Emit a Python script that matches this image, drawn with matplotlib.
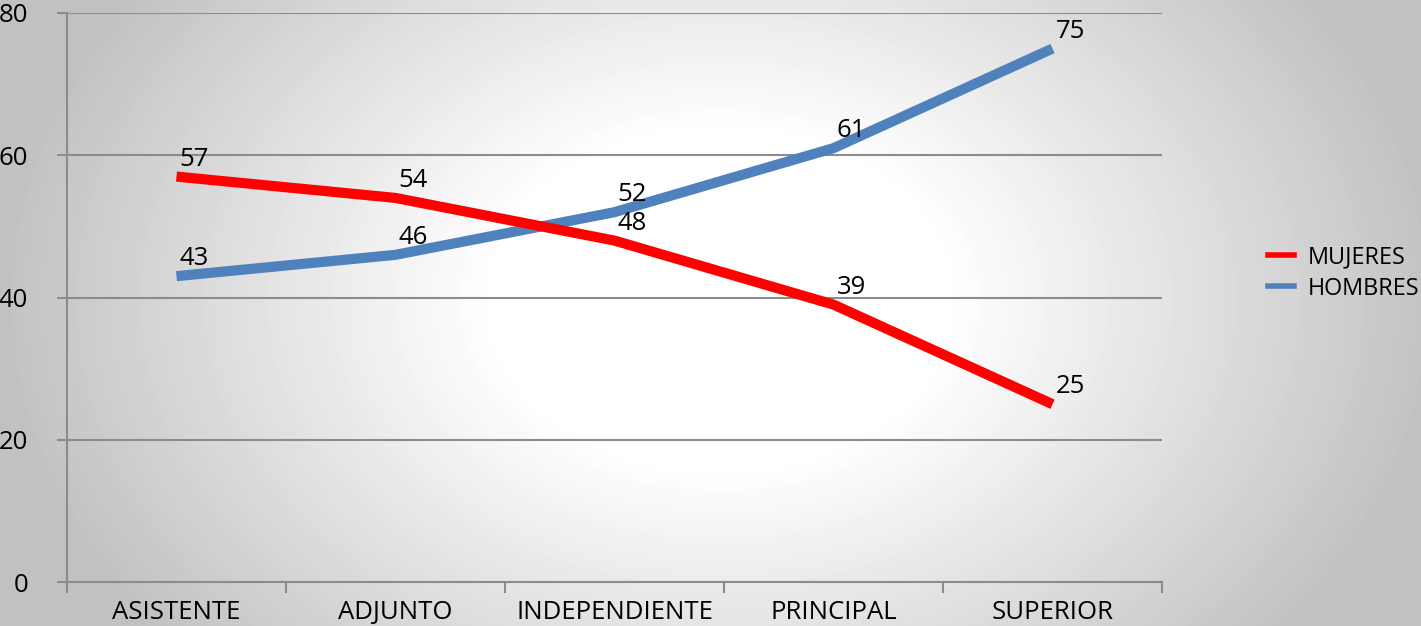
import numpy as np
import matplotlib
matplotlib.use("Agg")
import matplotlib.pyplot as plt
from matplotlib.lines import Line2D

categories = ["ASISTENTE", "ADJUNTO", "INDEPENDIENTE", "PRINCIPAL", "SUPERIOR"]
mujeres = [57, 54, 48, 39, 25]
hombres = [43, 46, 52, 61, 75]
series_names = ["MUJERES", "HOMBRES"]
yticks = [0, 20, 40, 60, 80]

plt.rcParams['font.family'] = ['Open Sans', 'DejaVu Sans']

W, H = 1421, 626
fig = plt.figure(figsize=(W / 100, H / 100), dpi=100)

# radial gradient background
bg = fig.add_axes([0, 0, 1, 1], zorder=-10)
yy, xx = np.mgrid[0:H, 0:W]
cx, cy = 720, 300
r = np.sqrt(((xx - cx) / 760.0) ** 2 + ((yy - cy) / 560.0) ** 2)
v = np.clip(1.0 - 0.26 * np.clip(r - 0.3, 0, None) / 0.7, 0.76, 1.0)
bg.imshow(v, cmap='gray', vmin=0, vmax=1, aspect='auto', interpolation='bilinear')
bg.axis('off')

ax = fig.add_axes([67 / W, 1 - 582 / H, (1162 - 67) / W, (582 - 13) / H])
ax.patch.set_visible(False)

x = np.arange(len(categories))
red = '#FF0000'
blue = '#4F81BD'
gray = '#8C8C8C'

ax.plot(x, hombres, color=blue, lw=7.3, solid_capstyle='butt', zorder=3)
ax.plot(x, mujeres, color=red, lw=7.3, solid_capstyle='butt', zorder=4)

fs = 18.5
for xi, m, h in zip(x, mujeres, hombres):
    ax.annotate(str(m), (xi, m), xytext=(3, 11), textcoords='offset pixels',
                ha='left', va='baseline', fontsize=fs, color='black', zorder=5)
    ax.annotate(str(h), (xi, h), xytext=(3, 11), textcoords='offset pixels',
                ha='left', va='baseline', fontsize=fs, color='black', zorder=5)

ax.set_xlim(-0.5, len(categories) - 0.5)
ax.set_ylim(0, 80)
ax.set_yticks(yticks)
ax.set_yticklabels([str(t) for t in yticks])
ax.yaxis.grid(True, color=gray, lw=1.5)
ax.set_axisbelow(True)

ax.set_xticks(np.arange(-0.5, len(categories), 1.0))
ax.set_xticklabels([])
ax.set_xticks(x, minor=True)
ax.set_xticklabels(categories, minor=True)
ax.tick_params(axis='x', which='major', length=8, width=1.5, color=gray, direction='out')
ax.tick_params(axis='x', which='minor', length=0, pad=13, labelsize=fs)
ax.tick_params(axis='y', length=7, width=1.5, color=gray, pad=21, labelsize=fs)

for s in ['top', 'right']:
    ax.spines[s].set_visible(False)
for s in ['left', 'bottom']:
    ax.spines[s].set_color(gray)
    ax.spines[s].set_linewidth(1.5)

handles = [Line2D([], [], color=red, lw=4), Line2D([], [], color=blue, lw=4)]
fig.legend(handles, series_names, loc='center left', bbox_to_anchor=(1268 / W, 1 - 273 / H),
           frameon=False, fontsize=16.8, handlelength=1.1, handletextpad=0.6,
           labelspacing=0.3, borderpad=0, borderaxespad=0)

fig.savefig('out.png', dpi=100)
